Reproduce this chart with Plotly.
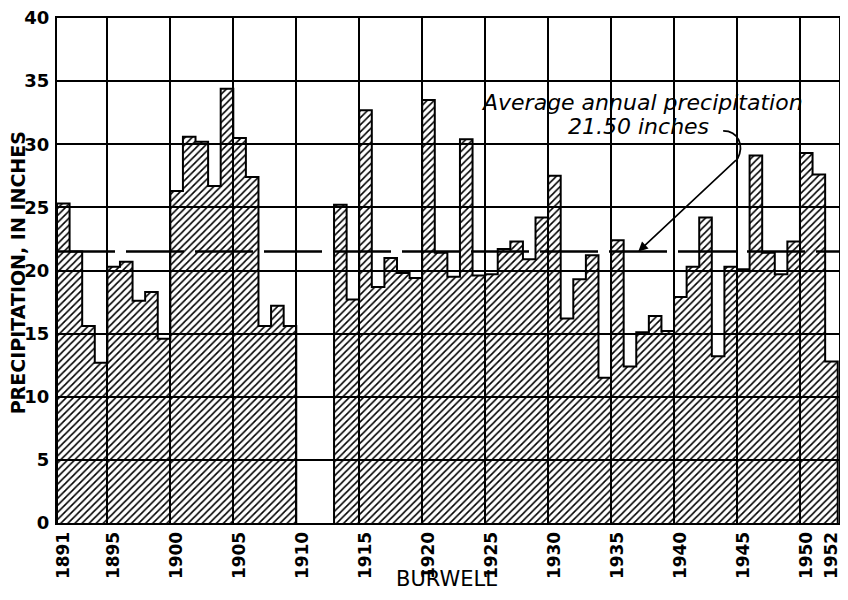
import plotly.graph_objects as go

years = list(range(1891, 1910)) + list(range(1913, 1953))
precip = [25.3, 21.5, 15.6, 12.7, 20.3, 20.7, 17.6, 18.3, 14.6, 26.3,
          30.6, 30.2, 26.7, 34.4, 30.5, 27.4, 15.6, 17.2, 15.6,
          25.2, 17.7, 32.7, 18.7, 21.0, 19.8, 19.4, 33.5, 21.4, 19.5,
          30.4, 19.6, 19.7, 21.7, 22.3, 20.9, 24.2, 27.5, 16.2, 19.3,
          21.2, 11.5, 22.4, 12.4, 15.1, 16.4, 15.2, 17.9, 20.3, 24.2,
          13.2, 20.3, 20.1, 29.1, 21.4, 19.7, 22.3, 29.3, 27.6, 12.8]
average = 21.50
tick_years = [1891, 1895, 1900, 1905, 1910, 1915, 1920, 1925, 1930, 1935,
              1940, 1945, 1950, 1952]
grid_years = [1895, 1900, 1905, 1910, 1915, 1920, 1925, 1930, 1935, 1940,
              1945, 1950]
y_ticks = [0, 5, 10, 15, 20, 25, 30, 35, 40]

FONT = "DejaVu Sans"

# stepped outline built from the data (contiguous runs of years)
step_x, step_y = [], []
runs = []
for yr, v in zip(years, precip):
    if runs and yr == runs[-1][-1][0] + 1:
        runs[-1].append((yr, v))
    else:
        runs.append([(yr, v)])
for run in runs:
    step_x.append(run[0][0] - 0.5)
    step_y.append(0)
    for yr, v in run:
        step_x.append(yr - 0.5)
        step_y.append(v)
    step_x.append(run[-1][0] + 0.5)
    step_y.append(0)
    step_x.append(None)
    step_y.append(None)

fig = go.Figure()
fig.add_trace(go.Bar(
    x=years, y=precip, width=1,
    marker=dict(color="black", line=dict(width=0),
                pattern=dict(shape="/", size=5, solidity=0.32, fillmode="replace")),
    showlegend=False,
))
fig.add_trace(go.Scatter(
    x=step_x, y=step_y, mode="lines", line=dict(color="black", width=2, shape="hv"),
    connectgaps=False, showlegend=False, hoverinfo="skip",
))
fig.add_trace(go.Scatter(
    x=[years[0] - 0.5, years[-1] + 0.7], y=[average, average],
    mode="lines", line=dict(color="black", width=2.5, dash="58px,11px"),
    showlegend=False, hoverinfo="skip",
))

# page has an 8px body margin: keep the figure inside the visible window
fig.update_layout(
    width=832, height=584,
    margin=dict(l=49, r=1, t=10, b=69),
    paper_bgcolor="white", plot_bgcolor="white",
    bargap=0,
    xaxis=dict(
        range=[years[0] - 0.5, 1952.6], automargin=False,
        tickvals=tick_years, ticktext=[str(y) for y in tick_years],
        tickangle=-90, showgrid=False, ticks="", ticklabelstandoff=0,
        ticklabeloverflow="allow",
        tickfont=dict(family=FONT, size=17, color="black", weight="bold"),
        showline=True, linecolor="black", linewidth=2, mirror=True,
        zeroline=False,
        minor=dict(tickvals=[g - 0.5 for g in grid_years], showgrid=True,
                   gridcolor="black", gridwidth=1.6, ticks=""),
    ),
    yaxis=dict(
        range=[0, 40], tickvals=y_ticks, showgrid=True, automargin=False,
        gridcolor="black", gridwidth=1.6, ticks="", ticklabelstandoff=2,
        ticklabeloverflow="allow",
        tickfont=dict(family=FONT, size=18, color="black", weight="bold"),
        showline=True, linecolor="black", linewidth=2, mirror=True,
        zeroline=False,
    ),
)

fig.add_annotation(
    x=0.498, y=-0.111, xref="paper", yref="paper", xanchor="center", yanchor="middle",
    text="BURWELL", showarrow=False, font=dict(family=FONT, size=21, color="black"),
)
fig.add_annotation(
    x=-0.0495, y=0.495, xref="paper", yref="paper", xanchor="center", yanchor="middle",
    text="PRECIPITATION, IN INCHES", textangle=-90, showarrow=False,
    font=dict(family=FONT, size=19, color="black", weight="bold"),
)

fig.add_annotation(
    x=1936.94, y=33.3, xref="x", yref="y",
    text="<i>Average annual precipitation</i>",
    showarrow=False, font=dict(family=FONT, size=22, color="black"),
)
fig.add_annotation(
    x=1936.66, y=31.4, xref="x", yref="y",
    text="<i>21.50 inches</i>",
    showarrow=False, font=dict(family=FONT, size=22, color="black"),
)
fig.add_shape(
    type="path", xref="x", yref="y",
    path="M 1943.4,31.06 C 1944.62,31.06 1945.09,29.88 1944.54,28.85",
    line=dict(color="black", width=1.8),
)
fig.add_annotation(
    x=1936.66, y=average, xref="x", yref="y",
    ax=1944.54, ay=28.85, axref="x", ayref="y",
    text="", showarrow=True, arrowhead=2, arrowsize=1.2, arrowwidth=1.6,
    arrowcolor="black",
)

fig.write_html("out.html")
